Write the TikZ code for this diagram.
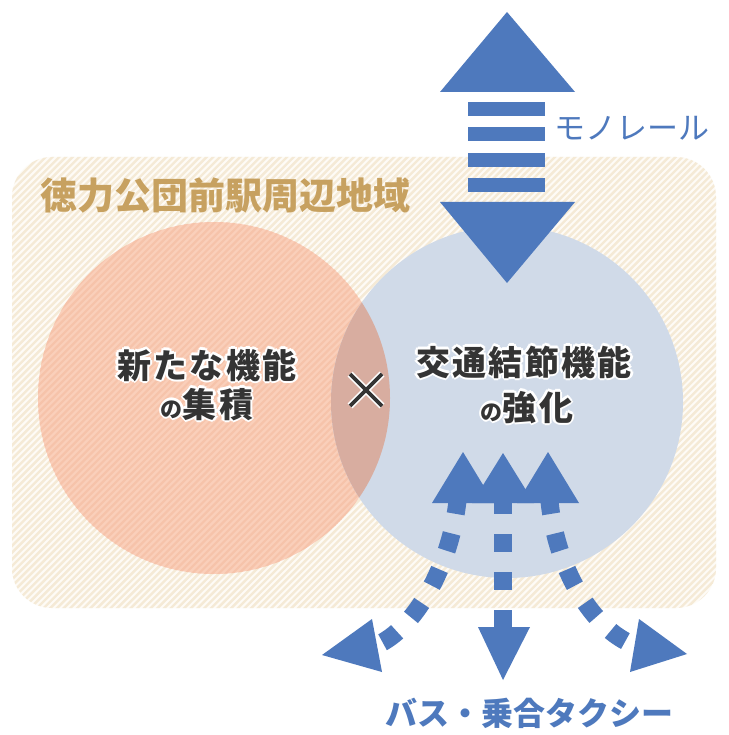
\documentclass[tikz,border=0pt]{standalone}
\usepackage{fontspec}
\newfontfamily\jp{Noto Sans CJK JP}
\newfontfamily\jpsp{Noto Sans CJK JP}[LetterSpace=7]
\definecolor{bgbase}{RGB}{254,251,246}
\definecolor{bgstripe}{RGB}{245,234,214}
\definecolor{salmon}{RGB}{250,207,186}
\definecolor{salmonstripe}{RGB}{246,195,170}
\definecolor{paleblue}{RGB}{208,218,232}
\definecolor{overlapc}{RGB}{216,173,160}
\definecolor{arrowblue}{RGB}{78,121,189}
\definecolor{gold}{RGB}{199,161,96}
\definecolor{txtdark}{RGB}{52,52,52}
\newcommand\halonode[4]{%
  \foreach \a in {0,45,...,315}{\node[anchor=#3,text=white,inner sep=0pt] at ([shift={(\a:2.4pt)}]#2) {#4};}
  \node[anchor=#3,text=txtdark,inner sep=0pt] (#1) at (#2) {#4};}
\tikzset{
  dashline/.style={draw=arrowblue, line width=18pt, dash pattern=on 18pt off 20pt},
  headfill/.style={fill=arrowblue},
  bluelabel/.style={text=arrowblue, inner sep=0pt},
}
\begin{document}
\begin{tikzpicture}[x=1pt,y=-1pt]
\useasboundingbox (0,0) rectangle (728,735);
\fill[white] (0,0) rectangle (728,735);
% region
\fill[bgbase, rounded corners=40pt] (12,157) rectangle (716,608);
\begin{scope}
  \clip[rounded corners=40pt] (12,157) rectangle (716,608);
  \foreach \i in {0,...,225} \draw[bgstripe, line width=2.4pt] ({-760+6.7*\i},735) -- ++(735,-735);
\end{scope}
% left circle
\fill[salmon] (214,398) circle[radius=176pt];
\begin{scope}
  \clip (214,398) circle[radius=176pt];
  \foreach \i in {0,...,225} \draw[salmonstripe, line width=2.2pt] ({-760+6.7*\i},735) -- ++(735,-735);
\end{scope}
% right circle
\fill[paleblue] (507,402) circle[radius=176pt];
\begin{scope}
  \clip (214,398) circle[radius=176pt];
  \fill[overlapc] (507,402) circle[radius=176pt];
\end{scope}
% title
\node[anchor=base west, text=gold, inner sep=0pt, font=\jp\bfseries\fontsize{37}{37}\selectfont] (title) at (40,210) {徳力公団前駅周辺地域};
% monorail arrow
\fill[headfill] (440,92) -- (575,92) -- (507,12) -- cycle;
\foreach \y in {102,127.5,153,178} \fill[headfill] (468,\y) rectangle (545,\y+14);
\fill[headfill] (440,202) -- (575,202) -- (507,283) -- cycle;
\node[bluelabel, font=\jp\fontsize{31}{31}\selectfont] (mono) at (632,128) {モノレール};
% circle texts
\halonode{l1}{207,378}{base}{\jpsp\bfseries\fontsize{34}{34}\selectfont 新たな機能}
\halonode{l2}{207,417}{base}{\jpsp\bfseries{\fontsize{22}{22}\selectfont の}\fontsize{34}{34}\selectfont 集積}
\halonode{r1}{524,375}{base}{\jpsp\bfseries\fontsize{34}{34}\selectfont 交通結節機能}
\halonode{r2}{527,420}{base}{\jpsp\bfseries{\fontsize{22}{22}\selectfont の}\fontsize{34}{34}\selectfont 強化}
% cross
\coordinate (xa) at (350,374); \coordinate (xb) at (382,406);
\coordinate (xc) at (350,406); \coordinate (xd) at (382,374);
\draw[white, line width=7pt] (xa) -- (xb) (xc) -- (xd);
\draw[txtdark, line width=3.6pt] (xa) -- (xb) (xc) -- (xd);
% bottom arrows
\coordinate (cs) at (503,496); \coordinate (ce) at (503,632);
\coordinate (ls) at (458,496); \coordinate (le) at (377,645);
\coordinate (rs) at (549,496); \coordinate (re) at (634,645);
\draw[dashline] (cs) -- (ce);
\draw[dashline] (ls) .. controls (451,570) and (412,630) .. (le);
\draw[dashline] (rs) .. controls (555,570) and (594,630) .. (re);
\fill[headfill] (322,655) -- (372,619) -- (382,672) -- cycle;
\fill[headfill] (687,654) -- (639,619) -- (630,672) -- cycle;
\fill[headfill] (503,680) -- (478,627) -- (530,627) -- cycle;
\fill[headfill] (432,503) -- (494,503) -- (463,452) -- cycle;
\fill[headfill] (472,503) -- (534,503) -- (503,453) -- cycle;
\fill[headfill] (517,503) -- (579,503) -- (548,452) -- cycle;
\node[bluelabel, font=\jp\bfseries\fontsize{32}{32}\selectfont] (bus) at (529,713) {バス・乗合タクシー};
\end{tikzpicture}
\end{document}
